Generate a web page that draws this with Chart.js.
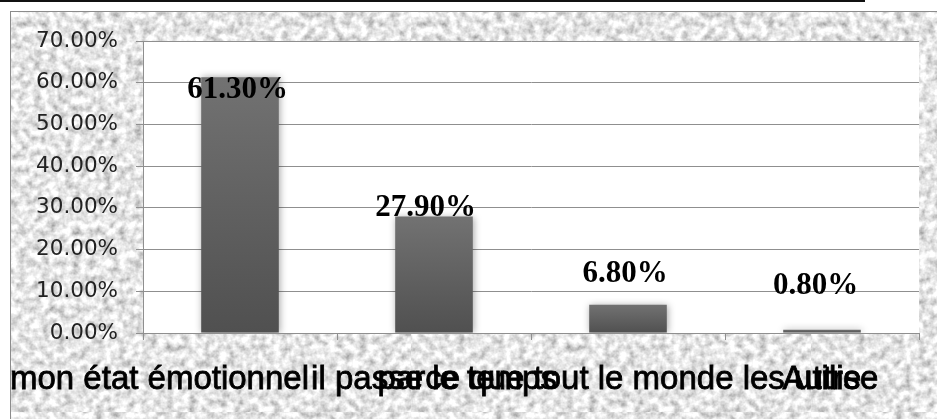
<!DOCTYPE html>
<html>
<head>
<meta charset="utf-8">
<script src="https://cdn.jsdelivr.net/npm/chart.js@4.4.1/dist/chart.umd.min.js"></script>
<style>
html, body { margin: 0; padding: 0; background: #fff; width: 937px; height: 419px; overflow: hidden; }
#topline { position: absolute; left: 0; top: 0; width: 865px; height: 2px; background: #111; }
#frame { position: absolute; left: 10px; top: 11px; width: 940px; height: 420px;
         border: 1px solid #8c8c8c; background-color: #c9c9c9; }
#chart { position: absolute; left: 0; top: 0; }
</style>
</head>
<body>
<div id="topline"></div>
<div id="frame"></div>
<canvas id="chart" width="937" height="419"></canvas>
<script>
/* ---------- données ---------- */
const categories = ["mon état émotionnel", "il passe le temps", "parce que tout le monde les utilise", "Autre"];
const values = [61.3, 27.9, 6.8, 0.8];
const yTicks = [0, 10, 20, 30, 40, 50, 60, 70];

/* ---------- fond granité ---------- */
const svg = "<svg xmlns='http://www.w3.org/2000/svg' width='400' height='400'>" +
    "<filter id='n'><feTurbulence type='fractalNoise' baseFrequency='0.13' numOctaves='3' seed='5' stitchTiles='stitch'/>" +
    "<feColorMatrix type='matrix' values='1.1 0 0 0 0.24  1.1 0 0 0 0.24  1.1 0 0 0 0.24  0 0 0 0 1'/>" +
    "<feGaussianBlur stdDeviation='0.6'/></filter>" +
    "<rect width='400' height='400' filter='url(#n)'/></svg>";
document.getElementById("frame").style.backgroundImage =
    'url("data:image/svg+xml,' + encodeURIComponent(svg) + '")';

/* ---------- plugins ---------- */
const plotBg = {
    id: "plotBg",
    beforeDraw(chart) {
        const a = chart.chartArea, ctx = chart.ctx;
        ctx.save();
        ctx.fillStyle = "#fff";
        ctx.fillRect(a.left, a.top, a.right - a.left, a.bottom - a.top);
        ctx.restore();
    }
};

// décalages des étiquettes (placées à la main dans l'original)
const labelShift = [[-2.5, 21], [-8.5, -1], [-3, -22.6], [-6.5, -35.7]];

const barDeco = {
    id: "barDeco",
    beforeDatasetsDraw(chart) {
        const ctx = chart.ctx;
        ctx.save();
        ctx.shadowColor = "rgba(0,0,0,0.35)";
        ctx.shadowBlur = 7;
        ctx.shadowOffsetX = 1;
        ctx.shadowOffsetY = 0;
    },
    afterDatasetsDraw(chart) {
        const ctx = chart.ctx;
        ctx.restore();
        const meta = chart.getDatasetMeta(0);
        ctx.save();
        ctx.font = 'bold 31px "Liberation Serif", "Times New Roman", serif';
        ctx.fillStyle = "#000";
        ctx.textAlign = "center";
        ctx.textBaseline = "alphabetic";
        meta.data.forEach((bar, i) => {
            const s = labelShift[i];
            ctx.fillText(values[i].toFixed(2) + "%", bar.x + s[0], bar.y + s[1]);
        });
        ctx.restore();
    }
};

const xLabels = {
    id: "xLabels",
    afterDraw(chart) {
        const ctx = chart.ctx, xs = chart.scales.x;
        ctx.save();
        ctx.font = '33px "Liberation Sans", Arial, sans-serif';
        ctx.fillStyle = "#000";
        ctx.strokeStyle = "#000";
        ctx.lineWidth = 0.8;
        ctx.textAlign = "left";
        ctx.textBaseline = "alphabetic";
        categories.forEach((c, i) => {
            const w = ctx.measureText(c).width;
            let left = xs.getPixelForValue(i) - w / 2;
            if (i === 0) left = 10;   // le premier libellé est calé sur le bord du cadre
            ctx.fillText(c, left, xs.top + 56);
            ctx.strokeText(c, left, xs.top + 56);
        });
        ctx.restore();
    }
};

/* ---------- graphique ---------- */
new Chart(document.getElementById("chart"), {
    type: "bar",
    data: {
        labels: categories,
        datasets: [{
            data: values,
            backgroundColor: c => {
                const ch = c.chart;
                if (!ch.chartArea || c.raw == null) return "#5e5e5e";
                const y = ch.scales.y;
                const g = ch.ctx.createLinearGradient(0, y.getPixelForValue(c.raw), 0, y.getPixelForValue(0));
                g.addColorStop(0, "#727272");
                g.addColorStop(1, "#505050");
                return g;
            },
            borderWidth: 0,
            barPercentage: 0.4,
            categoryPercentage: 1
        }]
    },
    options: {
        responsive: false,
        animation: false,
        layout: { padding: { left: 0, top: 41, right: 18, bottom: 0 } },
        plugins: { legend: { display: false }, tooltip: { enabled: false } },
        scales: {
            x: {
                afterFit: s => { s.height = 86; },
                ticks: { display: false },
                grid: { drawOnChartArea: false, drawTicks: true, tickLength: 7, color: "#8f8f8f" },
                border: { display: true, color: "#8f8f8f", width: 1 }
            },
            y: {
                min: 0,
                max: 70,
                afterFit: s => { s.width = 143; },
                afterBuildTicks: s => { s.ticks = yTicks.map(v => ({ value: v })); },
                ticks: {
                    padding: 18,
                    color: "#222",
                    font: { family: '"DejaVu Sans", Verdana, sans-serif', size: 21.5 },
                    callback: v => v.toFixed(2) + "%"
                },
                grid: { color: "#8f8f8f", tickLength: 7, lineWidth: 1 },
                border: { display: true, color: "#8f8f8f", width: 1 }
            }
        }
    },
    plugins: [plotBg, barDeco, xLabels]
});
</script>
</body>
</html>
